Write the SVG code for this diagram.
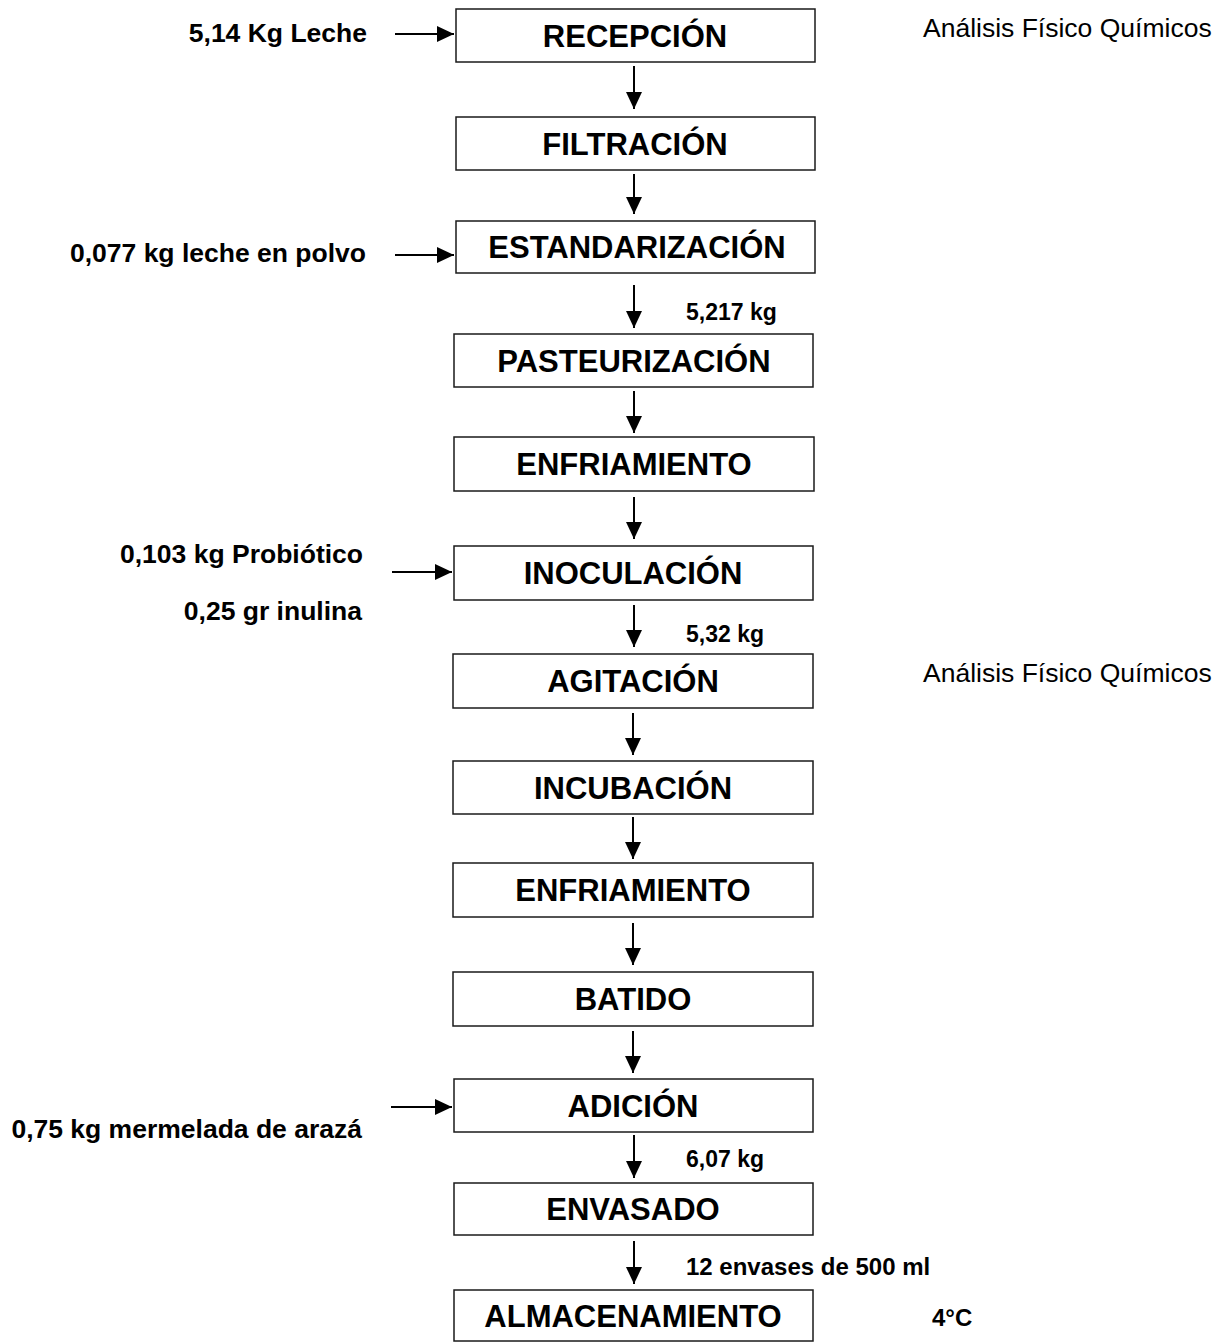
<svg xmlns="http://www.w3.org/2000/svg" width="1223" height="1343" viewBox="0 0 1223 1343">
<style>
.box{fill:#fff;stroke:#1a1a1a;stroke-width:1.5}
.lbl{font-family:"Liberation Sans",Arial,sans-serif;font-weight:bold;font-size:31px;fill:#000;text-anchor:middle}
.side{font-family:"Liberation Sans",Arial,sans-serif;font-weight:bold;font-size:26.5px;fill:#000;text-anchor:end}
.qty{font-family:"Liberation Sans",Arial,sans-serif;font-weight:bold;font-size:23px;fill:#000}
.note{font-family:"Liberation Sans",Arial,sans-serif;font-size:26.5px;fill:#000}
.arr{stroke:#000;stroke-width:2;fill:none;marker-end:url(#ah)}
</style>
<defs>
<marker id="ah" markerUnits="userSpaceOnUse" markerWidth="17" markerHeight="16" refX="17" refY="8" orient="auto">
<path d="M0,0 L17,8 L0,16 z" fill="#000"/>
</marker>
</defs>
<g id="connectors">
<line class="arr" x1="395" y1="34" x2="454" y2="34"/>
<line class="arr" x1="395" y1="255" x2="454" y2="255"/>
<line class="arr" x1="392" y1="572" x2="452" y2="572"/>
<line class="arr" x1="391" y1="1107" x2="452" y2="1107"/>
<line class="arr" x1="634" y1="66" x2="634" y2="109"/>
<line class="arr" x1="634" y1="174" x2="634" y2="214"/>
<line class="arr" x1="634" y1="285" x2="634" y2="328"/>
<line class="arr" x1="634" y1="391" x2="634" y2="433"/>
<line class="arr" x1="634" y1="497" x2="634" y2="539"/>
<line class="arr" x1="634" y1="605" x2="634" y2="647"/>
<line class="arr" x1="633" y1="713" x2="633" y2="755"/>
<line class="arr" x1="633" y1="817" x2="633" y2="859"/>
<line class="arr" x1="633" y1="923" x2="633" y2="965"/>
<line class="arr" x1="633" y1="1031" x2="633" y2="1073"/>
<line class="arr" x1="634" y1="1135" x2="634" y2="1178"/>
<line class="arr" x1="634" y1="1241" x2="634" y2="1284"/>
</g>
<g id="n-recepcion"><rect class="box" x="456" y="9" width="359" height="53"/><text class="lbl" x="635" y="47">RECEPCIÓN</text></g>
<g id="n-filtracion"><rect class="box" x="456" y="117" width="359" height="53"/><text class="lbl" x="635" y="155">FILTRACIÓN</text></g>
<g id="n-estandarizacion"><rect class="box" x="456" y="221" width="359" height="52"/><text class="lbl" x="637" y="258">ESTANDARIZACIÓN</text></g>
<g id="n-pasteurizacion"><rect class="box" x="454" y="334" width="359" height="53"/><text class="lbl" x="634" y="372">PASTEURIZACIÓN</text></g>
<g id="n-enfriamiento1"><rect class="box" x="454" y="437" width="360" height="54"/><text class="lbl" x="634" y="475">ENFRIAMIENTO</text></g>
<g id="n-inoculacion"><rect class="box" x="454" y="546" width="359" height="54"/><text class="lbl" x="633" y="584">INOCULACIÓN</text></g>
<g id="n-agitacion"><rect class="box" x="453" y="654" width="360" height="54"/><text class="lbl" x="633" y="692">AGITACIÓN</text></g>
<g id="n-incubacion"><rect class="box" x="453" y="761" width="360" height="53"/><text class="lbl" x="633" y="799">INCUBACIÓN</text></g>
<g id="n-enfriamiento2"><rect class="box" x="453" y="863" width="360" height="54"/><text class="lbl" x="633" y="901">ENFRIAMIENTO</text></g>
<g id="n-batido"><rect class="box" x="453" y="972" width="360" height="54"/><text class="lbl" x="633" y="1010">BATIDO</text></g>
<g id="n-adicion"><rect class="box" x="454" y="1079" width="359" height="53"/><text class="lbl" x="633" y="1117">ADICIÓN</text></g>
<g id="n-envasado"><rect class="box" x="454" y="1183" width="359" height="52"/><text class="lbl" x="633" y="1220">ENVASADO</text></g>
<g id="n-almacenamiento"><rect class="box" x="454" y="1290" width="359" height="51"/><text class="lbl" x="633" y="1327">ALMACENAMIENTO</text></g>
<g id="labels">
<text class="side" x="367" y="42">5,14 Kg Leche</text>
<text class="side" x="366" y="262">0,077 kg leche en polvo</text>
<text class="side" x="363" y="563">0,103 kg Probiótico</text>
<text class="side" x="362" y="620">0,25 gr inulina</text>
<text class="side" x="362" y="1138">0,75 kg mermelada de arazá</text>
<text class="qty" x="686" y="320">5,217 kg</text>
<text class="qty" x="686" y="642">5,32 kg</text>
<text class="qty" x="686" y="1167">6,07 kg</text>
<text class="qty" x="686" y="1275" style="font-size:24px">12 envases de 500 ml</text>
<text class="qty" x="932" y="1326" style="font-size:24px">4°C</text>
<text class="note" x="923" y="37">Análisis Físico Químicos</text>
<text class="note" x="923" y="682">Análisis Físico Químicos</text>
</g>
</svg>
